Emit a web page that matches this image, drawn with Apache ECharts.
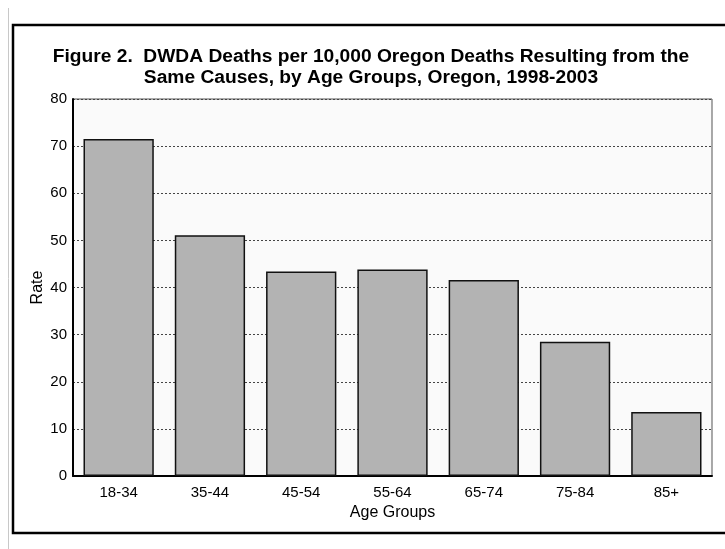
<!DOCTYPE html>
<html>
<head>
<meta charset="utf-8">
<script src="https://cdn.jsdelivr.net/npm/echarts@6/dist/echarts.min.js"></script>
<style>html,body{margin:0;padding:0;background:#fff;}#c{width:725px;height:549px;}</style>
</head>
<body>
<div id="c"></div>
<script>
var categories = ['18-34', '35-44', '45-54', '55-64', '65-74', '75-84', '85+'];
var rates = [71.5, 51.1, 43.4, 43.8, 41.6, 28.5, 13.6];
var yTicks = [0, 10, 20, 30, 40, 50, 60, 70, 80];
var titleLines = ['Figure 2.  DWDA Deaths per 10,000 Oregon Deaths Resulting from the', 'Same Causes, by Age Groups, Oregon, 1998-2003'];

var chart = echarts.init(document.getElementById('c'), null, {renderer: 'canvas'});
var font = 'Liberation Sans, Arial, Helvetica, sans-serif';
chart.setOption({
  animation: false,
  backgroundColor: '#fff',
  title: {
    text: titleLines.join('\n'),
    left: 366, top: 41, textAlign: 'center',
    textStyle: {fontFamily: font, fontSize: 19.2, fontWeight: 'bold', color: '#000', lineHeight: 21}
  },
  graphic: [
    {type: 'line', shape: {x1: 8.5, y1: 8, x2: 8.5, y2: 549}, style: {stroke: '#c8c8c8', lineWidth: 1}, silent: true},
    {type: 'rect', shape: {x: 13, y: 25, width: 730, height: 508}, style: {fill: 'none', stroke: '#000', lineWidth: 2.5}, silent: true}
  ],
  grid: {
    left: 73, right: 13, top: 99, bottom: 73,
    show: true, backgroundColor: '#fafafa', borderColor: '#555', borderWidth: 1
  },
  xAxis: {
    type: 'category', data: categories,
    name: 'Age Groups', nameLocation: 'middle', nameGap: 29, nameMoveOverlap: false,
    nameTextStyle: {fontFamily: font, fontSize: 16, color: '#000'},
    axisLine: {show: true, lineStyle: {color: '#000', width: 2}},
    axisTick: {show: false},
    axisLabel: {fontFamily: font, fontSize: 15, color: '#000', margin: 9}
  },
  yAxis: {
    type: 'value', min: yTicks[0], max: yTicks[yTicks.length - 1], interval: 10,
    name: 'Rate', nameLocation: 'middle', nameGap: 27, nameMoveOverlap: false,
    nameTextStyle: {fontFamily: font, fontSize: 16, color: '#000'},
    axisLine: {show: true, lineStyle: {color: '#000', width: 2}},
    axisTick: {show: false},
    axisLabel: {fontFamily: font, fontSize: 15, color: '#000', margin: 6},
    splitLine: {show: true, lineStyle: {color: '#444', width: 1, type: [2, 2]}}
  },
  series: [{
    type: 'bar', data: rates, barCategoryGap: '23%',
    itemStyle: {color: '#b3b3b3', borderColor: '#111', borderWidth: 1.5}
  }]
});
</script>
</body>
</html>
